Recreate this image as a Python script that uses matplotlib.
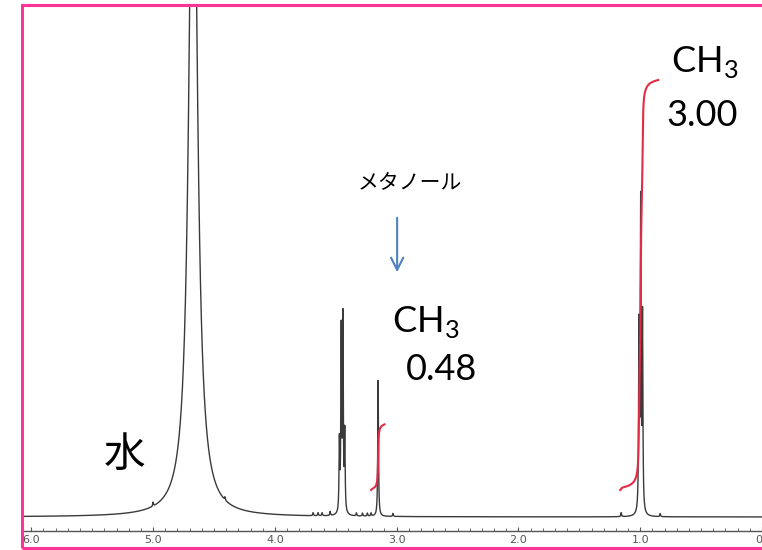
import numpy as np
import matplotlib
matplotlib.use("Agg")
import matplotlib.pyplot as plt
from matplotlib.patches import Rectangle

plt.rcParams['font.family'] = ['Lato', 'Noto Sans CJK JP', 'DejaVu Sans']
plt.rcParams['mathtext.fontset'] = 'custom'
plt.rcParams['mathtext.rm'] = 'Lato'

# --- peaks: shift (ppm), height (px above baseline), half width (ppm)
water_peak = (4.671, 790.0, 0.039)
ch2_shifts = [3.470, 3.455, 3.441, 3.426]
ch2_heights = [70, 180, 192, 78]
meoh_shift = 3.152
meoh_height = 136
ch3_shifts = [1.010, 0.996, 0.981]
ch3_heights = [182, 305, 192]
small_shifts = [5.00, 4.41, 3.686, 3.645, 3.612, 3.546, 3.33, 3.28, 3.24, 3.21, 3.03, 1.156, 0.836]
small_heights = [4, 3, 3, 3, 3, 4, 3, 3, 3, 3, 3, 4, 3]
line_width = 0.0035

# integrals
integ_ranges = [(3.21, 3.10), (1.165, 0.852)]
integ_values = [0.48, 3.00]
integ_base = 27
integ_scale = 410 / 3.00

tick_values = [6.0, 5.0, 4.0, 3.0, 2.0, 1.0, 0.0]
tick_labels = ["6.0", "5.0", "4.0", "3.0", "2.0", "1.0", "0"]


def lorentz(x, x0, h, g):
    return h * g**2 / (g**2 + (x - x0)**2)


ppm = np.linspace(-0.1, 6.2, 40001)
spec = lorentz(ppm, *water_peak)
for s, h in zip(ch2_shifts, ch2_heights):
    spec += lorentz(ppm, s, h, line_width)
spec += lorentz(ppm, meoh_shift, meoh_height, line_width)
for s, h in zip(ch3_shifts, ch3_heights):
    spec += lorentz(ppm, s, h, line_width)
for s, h in zip(small_shifts, small_heights):
    spec += lorentz(ppm, s, h, line_width)

W, H = 762, 550
fig = plt.figure(figsize=(W / 100, H / 100), dpi=100)
ax = fig.add_axes([24 / W, (H - 531) / H, (W - 24) / W, (531 - 7) / H])

ax.plot(ppm, spec, color='#3a3a3a', lw=1.0)

red = '#e32b45'
for (hi, lo), val in zip(integ_ranges, integ_values):
    m = (ppm <= hi) & (ppm >= lo)
    sx = ppm[m][::-1]
    sy = spec[m][::-1]
    cum = np.cumsum(sy)
    cum = cum / cum[-1] * val * integ_scale + integ_base
    ax.plot(sx, cum, color=red, lw=1.5)

ax.set_xlim(6.06, 0.0)
ax.set_ylim(-14, 510)
for sp in ['left', 'right', 'top']:
    ax.spines[sp].set_visible(False)
ax.spines['bottom'].set_color('#555555')
ax.spines['bottom'].set_linewidth(1.0)
ax.set_yticks([])
ax.set_xticks(tick_values)
ax.set_xticklabels(tick_labels, fontsize=8, color='#555555', family='DejaVu Sans')
ax.get_xticklabels()[-1].set_ha('right')
ax.set_xticks(np.arange(0, 6.06, 0.1), minor=True)
ax.tick_params(axis='x', which='major', direction='in', length=3, color='#555555', pad=3)
ax.tick_params(axis='x', which='minor', direction='in', length=2, color='#555555')

# labels
ax.text(0.474, 455, r'CH$_\mathrm{3}$', fontsize=26, ha='center', va='center')
ax.text(0.49, 401, f'{integ_values[1]:.2f}', fontsize=26, ha='center', va='center')
ax.text(2.758, 195, r'CH$_\mathrm{3}$', fontsize=26, ha='center', va='center')
ax.text(2.634, 147, f'{integ_values[0]:.2f}', fontsize=26, ha='center', va='center')
ax.text(2.889, 334, 'メタノール', fontsize=15, ha='center', va='center')
ax.text(5.23, 62, '水', fontsize=30, ha='center', va='center')
ax.annotate('', xy=(2.996, 242), xytext=(2.996, 302),
            arrowprops=dict(arrowstyle='->', color='#4f81bd', lw=1.5, mutation_scale=22))

# pink frame
fig.patches.append(Rectangle((22 / W, 2 / H), 1.1, (H - 7) / H, transform=fig.transFigure,
                             fill=False, edgecolor='#ff3399', lw=2.2, clip_on=False))

fig.savefig('out.png', dpi=100)
